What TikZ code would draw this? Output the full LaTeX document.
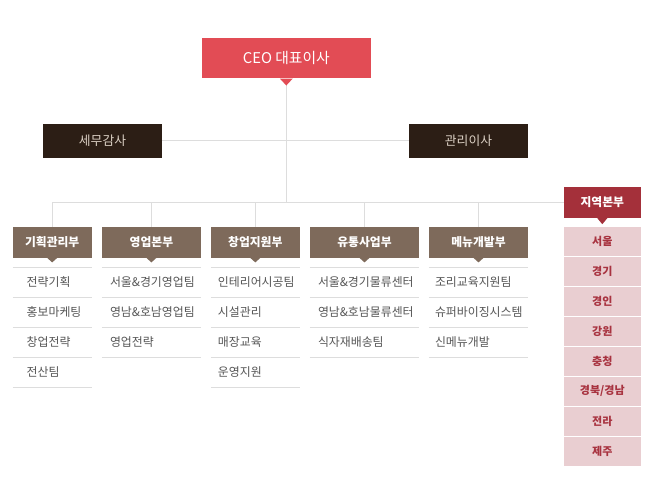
\documentclass[tikz,border=0pt]{standalone}
\usepackage{fontspec}
\setmainfont{Noto Sans CJK KR}
\usetikzlibrary{calc}
\definecolor{ceored}{HTML}{E24C55}
\definecolor{darkbox}{HTML}{2C1E15}
\definecolor{beige}{HTML}{DCD1C5}
\definecolor{deptbrown}{HTML}{7E6A5B}
\definecolor{regred}{HTML}{A4303A}
\definecolor{regpink}{HTML}{E9CED1}
\definecolor{regtext}{HTML}{A83340}
\definecolor{itemgray}{HTML}{555555}
\definecolor{linegray}{HTML}{DDDDDD}

\begin{document}
\begin{tikzpicture}[x=1pt,y=-1pt,
	ceobox/.style={fill=ceored, text=white, inner sep=0pt, minimum width=169pt, minimum height=40pt, font=\fontsize{14.8}{16}\selectfont},
	boardbox/.style={fill=darkbox, text=beige, inner sep=0pt, minimum width=119.5pt, minimum height=33.5pt, font=\fontsize{12.8}{14}\selectfont},
	dept/.style={fill=deptbrown, text=white, inner sep=0pt, minimum height=31pt, font=\fontsize{11.8}{13}\selectfont\bfseries},
	region/.style={fill=regred, text=white, inner sep=0pt, minimum width=76.7pt, minimum height=31pt, font=\fontsize{11.8}{13}\selectfont\bfseries},
	regitem/.style={fill=regpink, text=regtext, inner sep=0pt, minimum width=76.7pt, minimum height=29pt, font=\fontsize{11}{12}\selectfont\bfseries},
	item/.style={text=itemgray, inner sep=0pt, anchor=west, font=\fontsize{11.9}{13}\selectfont},
	link/.style={draw=linegray, line width=1pt},
	sepline/.style={draw=linegray, line width=1pt}]
	\useasboundingbox (0,0) rectangle (647,480);

	\node[ceobox] (ceo) at (286.3,58.3) {CEO 대표이사};
	\node[boardbox] (audit) at (102.5,140.8) {세무감사};
	\node[boardbox] (mgr) at (468.5,140.8) {관리이사};
	\node[region] (region) at (602.3,202.5) {지역본부};

	\node[dept, minimum width=79pt] (d1) at (52.2,242.2) {기획관리부};
	\node[dept, minimum width=99.3pt] (d2) at (151.4,242.2) {영업본부};
	\node[dept, minimum width=88.7pt] (d3) at (255.3,242.2) {창업지원부};
	\node[dept, minimum width=109pt] (d4) at (364.5,242.2) {유통사업부};
	\node[dept, minimum width=99pt] (d5) at (478.5,242.2) {메뉴개발부};

	% connectors
	\coordinate (hub) at (286.3,202.5);
	\draw[link] (ceo.south) -- (hub);
	\draw[link] (audit) -- (mgr);
	\draw[link] (d1.north) |- (region.west);
	\foreach \d in {d2,d3,d4,d5}
		\draw[link] (\d.north) -- (\d.north |- hub);

	% pointers under the boxes
	\foreach \n/\c/\w/\h in {ceo/ceored/6.5/7, region/regred/5/6, d1/deptbrown/5/4.5, d2/deptbrown/5/4.5, d3/deptbrown/5/4.5, d4/deptbrown/5/4.5, d5/deptbrown/5/4.5}
		\fill[\c] ($(\n.south)+(-\w,0)$) -- ($(\n.south)+(\w,0)$) -- ($(\n.south)+(0,\h)$) -- cycle;

	% teams
	\foreach \d/\ind/\names in {d1/14/{전략기획,홍보마케팅,창업전략,전산팀},
		d2/8.3/{서울\&경기영업팀,영남\&호남영업팀,영업전략},
		d3/7/{인테리어시공팀,시설관리,매장교육,운영지원},
		d4/8/{서울\&경기물류센터,영남\&호남물류센터,식자재배송팀},
		d5/6/{조리교육지원팀,슈퍼바이징시스템,신메뉴개발}}
	{
		\draw[sepline] (\d.west |- 0,267.3) -- (\d.east |- 0,267.3);
		\foreach \t [count=\k] in \names {
			\pgfmathsetmacro{\yy}{252+30*\k}
			\pgfmathsetmacro{\ys}{267.3+30*\k}
			\node[item, xshift=\ind pt] (\d-\k) at (\d.west |- 0,\yy) {\t};
			\draw[sepline] (\d.west |- 0,\ys) -- (\d.east |- 0,\ys);
		}
	}

	% regions
	\foreach \t [count=\k] in {서울,경기,경인,강원,충청,경북/경남,전라,제주}
		\node[regitem] (r\k) at (602.3,{211.2+30*\k}) {\t};
\end{tikzpicture}
\end{document}
